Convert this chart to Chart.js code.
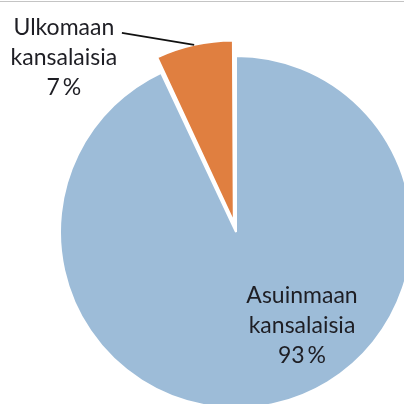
<!DOCTYPE html>
<html>
<head>
<meta charset="utf-8">
<script src="https://cdn.jsdelivr.net/npm/chart.js@4"></script>
<style>
  html, body { margin: 0; padding: 0; background: #fff; }
  #wrap { position: relative; width: 404px; height: 404px; }
  #topline { position: absolute; left: 0; top: 1px; width: 404px; height: 1px; background: #c4c4c4; }
  canvas { display: block; }
</style>
</head>
<body>
<div id="wrap">
  <canvas id="pie" width="404" height="404"></canvas>
  <div id="topline"></div>
</div>
<script>
const categories = [["Asuinmaan", "kansalaisia"], ["Ulkomaan", "kansalaisia"]];
const shares = [93, 7];
const colors = ["#9dbcd8", "#e07f40"];
const offsets = [0, 40];

const labelFont = "23px Lato";

const pieLabels = {
  id: "pieLabels",
  afterDatasetsDraw(chart) {
    const ctx = chart.ctx;
    const arcs = chart.getDatasetMeta(0).data;
    ctx.save();
    ctx.font = labelFont;
    ctx.fillStyle = "#1e1e24";
    ctx.textAlign = "center";
    ctx.textBaseline = "alphabetic";

    const lines = (i) => [...categories[i], shares[i] + "\u2009%"];

    // big slice: label inside
    const a0 = arcs[0];
    const r = a0.outerRadius;
    let x = a0.x + 0.375 * r, y = a0.y + 0.405 * r;
    lines(0).forEach((t, k) => ctx.fillText(t, x, y + k * 30));

    // small slice: label outside with leader line
    const a1 = arcs[1];
    x = a1.x - 0.978 * r;
    y = a1.y - 1.12 * r;
    lines(1).forEach((t, k) => ctx.fillText(t, x, y + k * 30));

    const mid = (a1.startAngle + a1.endAngle) / 2;
    const circ = a1.endAngle - a1.startAngle;
    const fix = 1 - Math.sin(Math.min(Math.PI, circ));
    const shift = (offsets[1] / 4) * (1 + fix);
    const cx = a1.x + Math.cos(mid) * shift;
    const cy = a1.y + Math.sin(mid) * shift;
    const ex = cx + Math.cos(mid) * a1.outerRadius;
    const ey = cy + Math.sin(mid) * a1.outerRadius;
    ctx.beginPath();
    ctx.strokeStyle = "#111";
    ctx.lineWidth = 1.6;
    ctx.moveTo(x + 58, y - 2);
    ctx.lineTo(ex, ey);
    ctx.stroke();
    ctx.restore();
  }
};

new Chart(document.getElementById("pie").getContext("2d"), {
  type: "pie",
  data: {
    labels: categories.map((c) => c.join(" ")),
    datasets: [{
      data: shares,
      backgroundColor: colors,
      borderColor: "#ffffff",
      borderWidth: 2,
      offset: offsets,
      clip: false
    }]
  },
  options: {
    responsive: false,
    animation: false,
    radius: 176,
    layout: { padding: { left: 68, top: 60, right: 0, bottom: 0 } },
    plugins: {
      legend: { display: false },
      tooltip: { enabled: false }
    }
  },
  plugins: [pieLabels]
});
</script>
</body>
</html>
